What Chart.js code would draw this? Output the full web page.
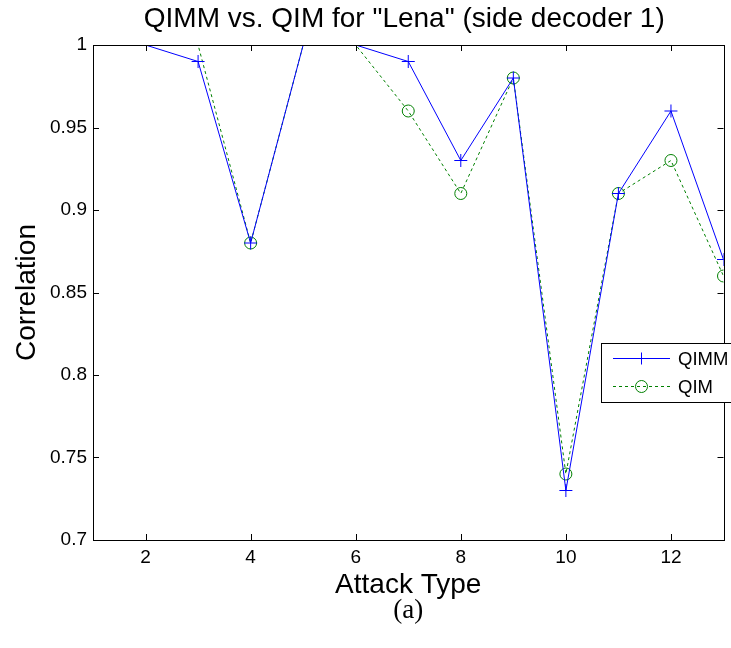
<!DOCTYPE html>
<html>
<head>
<meta charset="utf-8">
<script src="https://cdn.jsdelivr.net/npm/chart.js@4.4.0/dist/chart.umd.min.js"></script>
<style>
  html, body { margin: 0; padding: 0; background: #fff; }
</style>
</head>
<body>
<canvas id="qimChart" width="731" height="648"></canvas>
<script>
const attackTypes = [1, 2, 3, 4, 5, 6, 7, 8, 9, 10, 11, 12, 13];
const qimmValues = [1, 1, 0.99, 0.88, 1, 1, 0.99, 0.93, 0.98, 0.73, 0.91, 0.96, 0.87];
const qimValues = [1, 1, 1, 0.88, 1, 1, 0.96, 0.91, 0.98, 0.74, 0.91, 0.93, 0.86];
const xTicks = [2, 4, 6, 8, 10, 12];
const yTicks = [0.7, 0.75, 0.8, 0.85, 0.9, 0.95, 1];

const FONT = "'Liberation Sans', Arial, sans-serif";

// markers sitting on the top edge are clipped away in the original
const markerSize = r => ctx => (ctx.raw && ctx.raw.y >= 1 ? 0 : r);

// matlab style frame: full box, inward ticks, title, caption and legend
const matlabBox = {
    id: 'matlabBox',
    afterDraw(chart) {
        const { ctx, chartArea: a, scales: { x, y } } = chart;
        const cx = (a.left + a.right) / 2;
        ctx.save();
        ctx.strokeStyle = '#000';
        ctx.lineWidth = 1;
        ctx.strokeRect(Math.round(a.left) + 0.5, Math.round(a.top) + 0.5,
            Math.round(a.right - a.left), Math.round(a.bottom - a.top));

        const tl = 6;
        ctx.beginPath();
        x.ticks.forEach(t => {
            const px = Math.round(x.getPixelForValue(t.value)) + 0.5;
            ctx.moveTo(px, a.bottom); ctx.lineTo(px, a.bottom - tl);
            ctx.moveTo(px, a.top); ctx.lineTo(px, a.top + tl);
        });
        y.ticks.forEach(t => {
            const py = Math.round(y.getPixelForValue(t.value)) + 0.5;
            ctx.moveTo(a.left, py); ctx.lineTo(a.left + tl, py);
            ctx.moveTo(a.right, py); ctx.lineTo(a.right - tl, py);
        });
        ctx.stroke();

        ctx.fillStyle = '#000';
        ctx.textAlign = 'center';
        ctx.textBaseline = 'middle';
        ctx.font = '28px ' + FONT;
        ctx.fillText('QIMM vs. QIM for "Lena" (side decoder 1)', cx - 4, 19);
        ctx.font = "27px 'Liberation Serif', 'Times New Roman', serif";
        ctx.fillText('(a)', cx, 611);

        // legend box (runs past the right edge like the cropped original)
        const bx = 601, by = 343;
        ctx.fillStyle = '#fff';
        ctx.fillRect(bx + 0.5, by + 0.5, 140, 59);
        ctx.strokeRect(bx + 0.5, by + 0.5, 140, 59);
        ctx.font = '18.5px ' + FONT;
        ctx.textAlign = 'left';
        chart.data.datasets.forEach((ds, i) => {
            const ly = by + 15.5 + i * 28;
            ctx.strokeStyle = ds.borderColor;
            ctx.setLineDash(ds.borderDash || []);
            ctx.beginPath();
            ctx.moveTo(613, ly); ctx.lineTo(670, ly);
            ctx.stroke();
            ctx.setLineDash([]);
            ctx.fillStyle = 'rgba(0,0,0,0)';
            Chart.helpers.drawPoint(ctx, { pointStyle: ds.pointStyle, radius: 6, borderWidth: 1, rotation: 0 }, 641.5, ly);
            ctx.fillStyle = '#000';
            ctx.fillText(ds.label, 678, ly + 1);
        });
        ctx.restore();
    }
};

new Chart(document.getElementById('qimChart'), {
    type: 'line',
    data: {
        datasets: [{
            label: 'QIMM',
            data: attackTypes.map((t, i) => ({ x: t, y: qimmValues[i] })),
            borderColor: '#0000ff',
            borderWidth: 1,
            tension: 0,
            pointStyle: 'cross',
            pointRadius: markerSize(6.5),
            pointBorderColor: '#0000ff',
            pointBorderWidth: 1
        }, {
            label: 'QIM',
            data: attackTypes.map((t, i) => ({ x: t, y: qimValues[i] })),
            borderColor: '#008000',
            borderWidth: 1,
            borderDash: [3, 3],
            tension: 0,
            pointStyle: 'circle',
            pointRadius: markerSize(6),
            pointBackgroundColor: 'rgba(0,0,0,0)',
            pointBorderColor: '#008000',
            pointBorderWidth: 1
        }]
    },
    options: {
        responsive: false,
        animation: false,
        events: [],
        layout: { padding: { top: 45, right: 6, left: 0, bottom: 0 } },
        plugins: {
            legend: { display: false },
            tooltip: { enabled: false }
        },
        scales: {
            x: {
                type: 'linear',
                min: 1, max: 13,
                afterBuildTicks: s => { s.ticks = xTicks.map(v => ({ value: v })); },
                afterFit: s => { s.height = 108; },
                grid: { display: false, drawTicks: false },
                border: { display: false },
                ticks: { color: '#000', padding: 6, font: { family: FONT, size: 19 }, callback: v => String(v) },
                title: { display: true, text: 'Attack Type', color: '#000', padding: { top: 0, bottom: 46 }, font: { family: FONT, size: 28 } }
            },
            y: {
                min: 0.7, max: 1,
                afterBuildTicks: s => { s.ticks = yTicks.map(v => ({ value: v })); },
                afterFit: s => { s.width = 93; },
                grid: { display: false, drawTicks: false },
                border: { display: false },
                ticks: { color: '#000', padding: 6, font: { family: FONT, size: 19 }, callback: v => String(v) },
                title: { display: true, text: 'Correlation', color: '#000', padding: { top: 10, bottom: 0 }, font: { family: FONT, size: 28 } }
            }
        }
    },
    plugins: [matlabBox]
});
</script>
</body>
</html>
